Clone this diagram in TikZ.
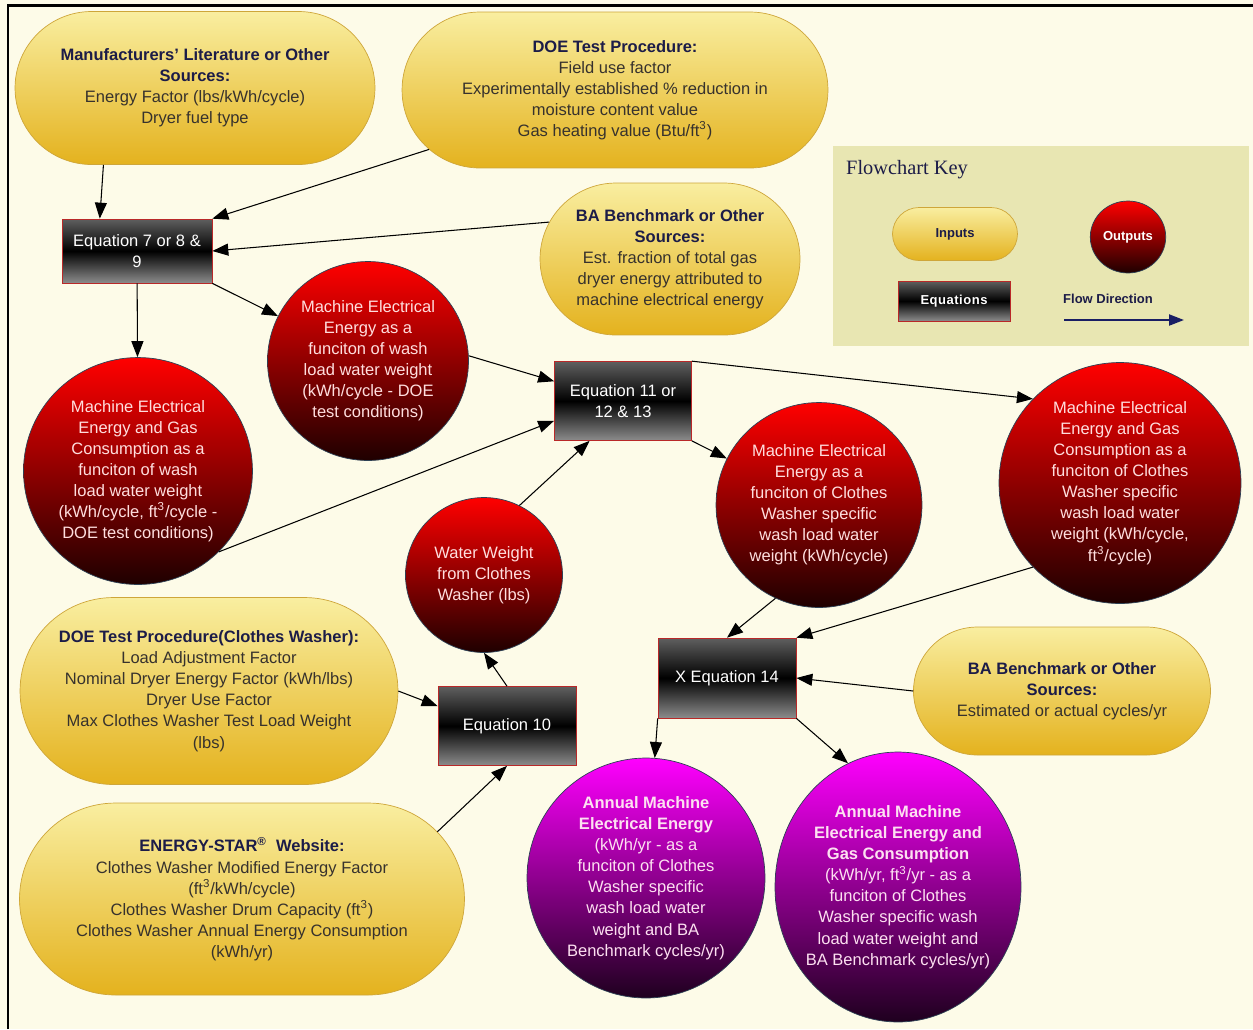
\documentclass[tikz,border=0pt]{standalone}
\usepackage{fontspec}
\setmainfont{Liberation Sans}
\newfontfamily\keyfont{Liberation Serif}
\usepackage{tikz}
\usetikzlibrary{shapes.geometric, shapes.misc, arrows.meta}

\definecolor{paper}{RGB}{253,251,232}
\definecolor{keyfill}{RGB}{232,230,178}
\definecolor{goldtop}{RGB}{249,238,160}
\definecolor{goldbottom}{RGB}{228,178,30}
\definecolor{goldline}{RGB}{206,166,58}
\definecolor{headnavy}{RGB}{28,28,72}
\definecolor{bodygray}{RGB}{55,50,45}
\definecolor{eqtop}{RGB}{95,95,95}
\definecolor{eqbottom}{RGB}{140,140,140}
\definecolor{eqline}{RGB}{185,40,40}
\definecolor{rimblue}{RGB}{45,65,85}
\definecolor{pinktext}{RGB}{255,222,222}
\definecolor{flownavy}{RGB}{25,30,100}

\newcommand{\diagfont}{\fontsize{9.4}{12}\selectfont}
\newcommand{\keytext}{\fontsize{7.4}{9}\selectfont\bfseries}
\newcommand{\srchead}[1]{\textcolor{headnavy}{\bfseries #1}}

\begin{document}
\begin{tikzpicture}[
    x=0.02cm, y=-0.02cm,
    source/.style={rounded rectangle, draw=goldline, top color=goldtop, bottom color=goldbottom, inner xsep=-1.3cm, inner ysep=2pt, align=center, text=bodygray, font=\diagfont},
    equation/.style={rectangle, draw=eqline, top color=eqtop, bottom color=eqbottom, middle color=black, align=center, text=white, font=\diagfont},
    outcome/.style={ellipse, draw=rimblue, top color=red, bottom color=black!88!red, inner sep=-3pt, align=center, text=pinktext, font=\diagfont},
    annual/.style={outcome, top color=magenta, bottom color=black!88!magenta, text=white!88!magenta},
    flow/.style={-{Triangle[length=0.32cm, width=0.24cm]}, line width=0.6pt}
]

\path[use as bounding box, fill=paper] (0,0) rectangle (1253,1029);
\draw[line width=1.7pt] (8,1029) -- (8,5) -- (1253,5);

% Flowchart key
\node[fill=keyfill, minimum width=8.32cm, minimum height=4.02cm] (keybox) at (1041,246) {};
\node[font=\keyfont\fontsize{11.6}{14}\selectfont, text=headnavy, anchor=west] (keytitle) at (840,170) {Flowchart Key};
\node[source, inner xsep=2pt, minimum width=2.64cm, minimum height=1.06cm, font=\keytext, text=headnavy] (keyin) at (955,234) {Inputs};
\node[outcome, inner sep=1pt, minimum size=1.44cm, font=\keytext, text=white] (keyout) at (1128,237) {Outputs};
\node[equation, minimum width=2.24cm, minimum height=0.8cm, font=\keytext\addfontfeatures{LetterSpace=4}] (keyeq) at (954,301) {Equations};
\node[font=\keytext, text=headnavy] (keyflow) at (1108,299) {Flow Direction};
\coordinate (flowstart) at (1064,320);
\coordinate (flowend) at (1184,320);
\draw[-{Triangle[length=0.3cm, width=0.22cm]}, line width=1.2pt, draw=flownavy] (flowstart) -- (flowend);

% Inputs
\node[source, minimum width=4.6cm, minimum height=3.06cm] (manu) at (195,88) {\srchead{Manufacturers' Literature or Other}\\\srchead{Sources:}\\Energy Factor (lbs/kWh/cycle)\\Dryer fuel type};
\node[source, minimum width=5.92cm, minimum height=3.12cm] (doetest) at (615,90) {\srchead{DOE Test Procedure:}\\Field use factor\\Experimentally established \% reduction in\\moisture content value\\Gas heating value (Btu/ft\textsuperscript{3})};
\node[source, minimum width=2.6cm, minimum height=3.04cm] (bagas) at (670,259) {\srchead{BA Benchmark or Other}\\\srchead{Sources:}\\Est. fraction of total gas\\dryer energy attributed to\\machine electrical energy};
\node[source, minimum width=4.96cm, minimum height=3.74cm] (doewasher) at (209,691) {\srchead{DOE Test Procedure(Clothes Washer):}\\Load Adjustment Factor\\Nominal Dryer Energy Factor (kWh/lbs)\\Dryer Use Factor\\Max Clothes Washer Test Load Weight\\(lbs)};
\node[source, minimum width=6.3cm, minimum height=3.84cm] (estar) at (242,899) {\srchead{ENERGY-STAR\textsuperscript{\textregistered}\ \ Website:}\\Clothes Washer Modified Energy Factor\\(ft\textsuperscript{3}/kWh/cycle)\\Clothes Washer Drum Capacity (ft\textsuperscript{3})\\Clothes Washer Annual Energy Consumption\\(kWh/yr)};
\node[source, minimum width=3.34cm, minimum height=2.56cm] (bacycles) at (1062,691) {\srchead{BA Benchmark or Other}\\\srchead{Sources:}\\Estimated or actual cycles/yr};

% Equations
\node[equation, minimum width=3.0cm, minimum height=1.28cm] (eqnine) at (137,251) {Equation 7 or 8 \&\\9};
\node[equation, minimum width=2.74cm, minimum height=1.58cm] (eqthirteen) at (623,401) {Equation 11 or\\12 \& 13};
\node[equation, minimum width=2.76cm, minimum height=1.58cm] (eqten) at (507,726) {Equation 10};
\node[equation, minimum width=2.76cm, minimum height=1.6cm] (eqfourteen) at (727,678) {X Equation 14};

% Outputs
\node[outcome, minimum width=4.02cm, minimum height=3.98cm] (elecdoe) at (368,361) {Machine Electrical\\Energy as a\\funciton of wash\\load water weight\\(kWh/cycle - DOE\\test conditions)};
\node[outcome, minimum width=4.58cm, minimum height=4.54cm] (gasdoe) at (138,471) {Machine Electrical\\Energy and Gas\\Consumption as a\\funciton of wash\\load water weight\\(kWh/cycle, ft\textsuperscript{3}/cycle -\\DOE test conditions)};
\node[outcome, minimum width=3.14cm, minimum height=3.1cm] (water) at (484,575) {Water Weight\\from Clothes\\Washer (lbs)};
\node[outcome, minimum width=4.12cm, minimum height=4.1cm] (elecwasher) at (819,505) {Machine Electrical\\Energy as a\\funciton of Clothes\\Washer specific\\wash load water\\weight (kWh/cycle)};
\node[outcome, minimum width=4.84cm, minimum height=4.82cm] (gaswasher) at (1120,483) {Machine Electrical\\Energy and Gas\\Consumption as a\\funciton of Clothes\\Washer specific\\wash load water\\weight (kWh/cycle,\\ft\textsuperscript{3}/cycle)};
\node[annual, minimum width=4.76cm, minimum height=4.8cm] (annualelec) at (646,878) {\textbf{Annual Machine}\\\textbf{Electrical Energy}\\(kWh/yr - as a\\funciton of Clothes\\Washer specific\\wash load water\\weight and BA\\Benchmark cycles/yr)};
\node[annual, minimum width=4.88cm, minimum height=5.4cm] (annualgas) at (898,887) {\textbf{Annual Machine}\\\textbf{Electrical Energy and}\\\textbf{Gas Consumption}\\(kWh/yr, ft\textsuperscript{3}/yr - as a\\funciton of Clothes\\Washer specific wash\\load water weight and\\BA Benchmark cycles/yr)};

% Sources - Equation 7 or 8 & 9
\draw[flow] (manu.220) -- (eqnine.139);
\draw[flow] (doetest) -- (eqnine.north east);
\draw[flow] (bagas.163) -- (eqnine.east);

% Equation 7 or 8 & 9 - outputs
\draw[flow] (eqnine) -- (gasdoe);
\draw[flow] (eqnine.south east) -- (elecdoe);

% Equation 11 or 12 & 13
\draw[flow] (elecdoe.3) -- (eqthirteen.164);
\draw[flow] (gasdoe.-45) -- (eqthirteen.196);
\draw[flow] (water.63) -- (eqthirteen.230);
\draw[flow] (eqthirteen.south east) -- (elecwasher);
\draw[flow] (eqthirteen.north east) -- (gaswasher.136);

% Equation 10
\draw[flow] (doewasher.east) -- (eqten.164);
\draw[flow] (estar.19) -- (eqten.south);
\draw[flow] (eqten.north) -- (water.south);

% X Equation 14
\draw[flow] (elecwasher.245) -- (eqfourteen.north);
\draw[flow] (gaswasher.224) -- (eqfourteen.north east);
\draw[flow] (bacycles.west) -- (eqfourteen.east);
\draw[flow] (eqfourteen.south west) -- (annualelec);
\draw[flow] (eqfourteen.south east) -- (annualgas.112);

\end{tikzpicture}
\end{document}
